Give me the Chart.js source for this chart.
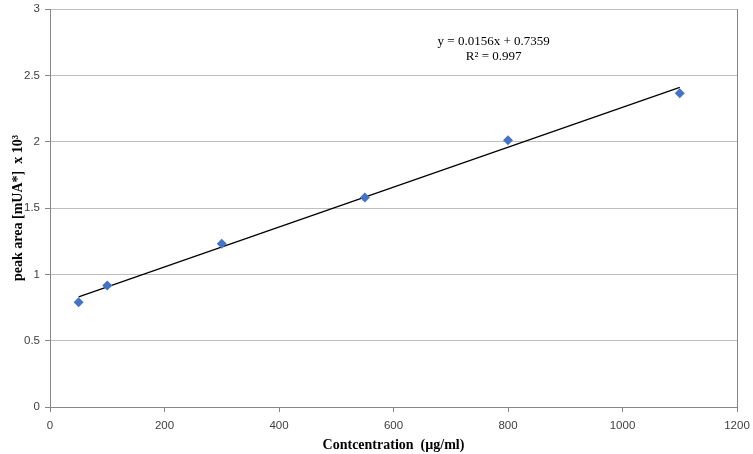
<!DOCTYPE html>
<html>
<head>
<meta charset="utf-8">
<script src="https://cdn.jsdelivr.net/npm/chart.js@4/dist/chart.umd.min.js"></script>
<style>
  html, body { margin: 0; padding: 0; background: #fff; }
  #wrap { width: 753px; height: 454px; }
</style>
</head>
<body>
<div id="wrap"><canvas id="grafico"></canvas></div>
<script>
// dados
const concentracao = [50, 100, 300, 550, 800, 1100]
const area = [0.79, 0.915, 1.23, 1.58, 2.01, 2.365]
// linha de tendência (extremos)
const tendenciaX = [50, 1100]
const tendenciaY = [0.83, 2.41]
const equacao = ['y = 0.0156x + 0.7359', 'R² = 0.997']

const pontos = concentracao.map((x, i) => ({ x: x, y: area[i] }))
const linha = tendenciaX.map((x, i) => ({ x: x, y: tendenciaY[i] }))

// texto da equação + borda direita
const extras = {
    id: 'extras',
    beforeDatasetsDraw(chart) {
        const ctx = chart.ctx
        const a = chart.chartArea
        ctx.save()
        ctx.strokeStyle = '#868686'
        ctx.lineWidth = 1
        ctx.beginPath()
        ctx.moveTo(Math.round(a.right) + 0.5, a.top)
        ctx.lineTo(Math.round(a.right) + 0.5, a.bottom + 5)
        ctx.stroke()
        ctx.restore()
    },
    afterDatasetsDraw(chart) {
        const ctx = chart.ctx
        const sx = chart.scales.x, sy = chart.scales.y
        ctx.save()
        ctx.font = '13px "Liberation Serif", "Times New Roman", serif'
        ctx.fillStyle = '#000'
        ctx.textAlign = 'center'
        ctx.textBaseline = 'middle'
        ctx.fillText(equacao[0], sx.getPixelForValue(775), sy.getPixelForValue(2.755))
        ctx.fillText(equacao[1], sx.getPixelForValue(775), sy.getPixelForValue(2.645))
        ctx.restore()
    }
}

const fonteEixo = { family: 'Liberation Sans, Arial', size: 11.5 }
const fonteTitulo = { family: '"Liberation Serif", "Times New Roman", serif', size: 14, weight: 'bold' }

const grafico = document.getElementById('grafico')

new Chart(grafico, {
    type: 'scatter',
    data: {
        datasets: [{
            data: pontos,
            pointStyle: 'rectRot',
            pointRadius: 5,
            backgroundColor: '#4472C4',
            borderColor: '#4472C4',
            borderWidth: 0
        }, {
            type: 'line',
            data: linha,
            borderColor: '#000',
            borderWidth: 1.3,
            pointRadius: 0,
            fill: false
        }]
    },
    plugins: [extras],
    options: {
        responsive: true,
        maintainAspectRatio: false,
        animation: false,
        layout: { padding: { top: 0, right: 0, left: 10, bottom: 0 } },
        plugins: {
            legend: { display: false },
            tooltip: { enabled: false }
        },
        scales: {
            x: {
                type: 'linear',
                min: 0,
                max: 1200,
                ticks: { stepSize: 200, color: '#404040', font: fonteEixo, padding: 7, callback: v => String(v) },
                grid: { drawOnChartArea: false, drawTicks: true, tickLength: 5, color: '#868686' },
                border: { color: '#868686', width: 1 },
                title: {
                    display: true,
                    text: 'Contcentration  (µg/ml)',
                    color: '#000',
                    font: fonteTitulo,
                    padding: { top: 0, bottom: 0 }
                },
                afterFit(scale) {
                    scale.height = 47
                    scale.paddingRight = 16
                    scale.paddingLeft = 0
                }
            },
            y: {
                min: 0,
                max: 3,
                ticks: { stepSize: 0.5, color: '#404040', font: fonteEixo, padding: 5, callback: v => String(v) },
                grid: { color: '#bfbfbf', lineWidth: 1, tickLength: 5, tickColor: '#868686' },
                border: { color: '#868686', width: 1 },
                title: {
                    display: true,
                    text: 'peak area [mUA*]  x 10³',
                    color: '#000',
                    font: fonteTitulo,
                    padding: { top: 0, bottom: 0 }
                },
                afterFit(scale) {
                    scale.width = 40
                    scale.paddingTop = 9
                    scale.paddingBottom = 0
                }
            }
        }
    }
})
</script>
</body>
</html>
